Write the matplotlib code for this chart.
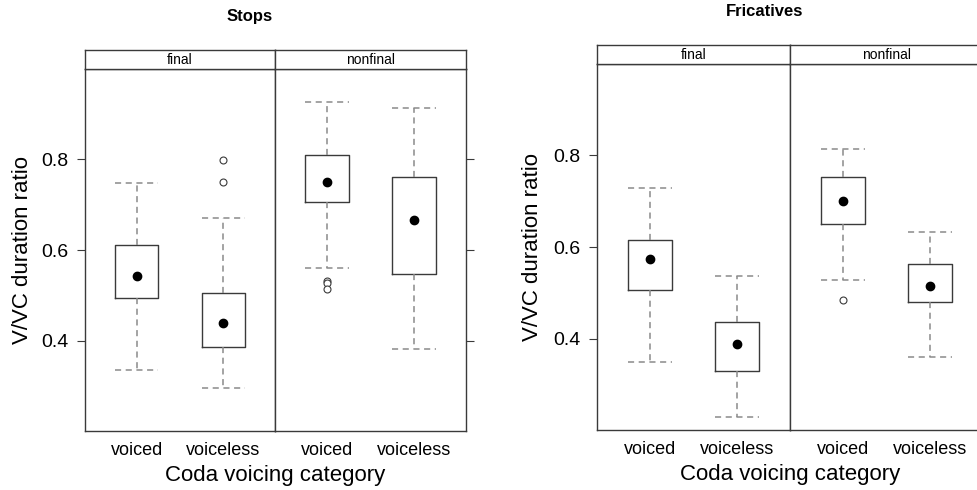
import matplotlib.pyplot as plt

plt.rcParams["font.family"] = ["Liberation Sans", "DejaVu Sans"]

GROUPS = ["voiced", "voiceless"]
PANELS = ["final", "nonfinal"]

# Stops: [final, nonfinal] x [voiced, voiceless]
stops_whislo = [[0.335, 0.294], [0.560, 0.382]]
stops_q1 = [[0.495, 0.385], [0.705, 0.548]]
stops_med = [[0.543, 0.438], [0.751, 0.667]]
stops_q3 = [[0.610, 0.505], [0.811, 0.762]]
stops_whishi = [[0.747, 0.670], [0.926, 0.913]]
stops_fliers = [[[], [0.751, 0.798]], [[0.532, 0.526, 0.513], []]]

# Fricatives
fric_whislo = [[0.348, 0.228], [0.528, 0.359]]
fric_q1 = [[0.506, 0.328], [0.650, 0.480]]
fric_med = [[0.574, 0.387], [0.700, 0.515]]
fric_q3 = [[0.615, 0.437], [0.754, 0.563]]
fric_whishi = [[0.730, 0.537], [0.815, 0.633]]
fric_fliers = [[[], []], [[0.485], []]]

W, H = 978, 490
EDGE = "#3a3a3a"
WHISK = "#8a8a8a"


def rect(x0, x1, y0, y1):
    return [x0 / W, 1 - y1 / H, (x1 - x0) / W, (y1 - y0) / H]


fig = plt.figure(figsize=(W / 100, H / 100), dpi=100)


def chart(xs, ytop, ystrip, ybot, title, title_xy, ylab_x, data):
    whislo, q1, med, q3, whishi, fliers = data
    for p, (x0, x1) in enumerate(zip(xs[:-1], xs[1:])):
        ax = fig.add_axes(rect(x0, x1, ystrip, ybot))
        stats = []
        for g, name in enumerate(GROUPS):
            stats.append(dict(label=name, whislo=whislo[p][g], q1=q1[p][g],
                              med=med[p][g], q3=q3[p][g], whishi=whishi[p][g],
                              fliers=fliers[p][g], mean=med[p][g]))
        ax.bxp(stats, positions=[1, 2], widths=0.5, capwidths=0.5,
               showmeans=True,
               boxprops=dict(color=EDGE, linewidth=1.0),
               whiskerprops=dict(color=WHISK, linewidth=1.1, linestyle=(0, (4, 3))),
               capprops=dict(color=WHISK, linewidth=1.1, linestyle=(0, (4, 3))),
               medianprops=dict(linewidth=0),
               meanprops=dict(marker="o", markerfacecolor="black",
                              markeredgecolor="black", markersize=6),
               flierprops=dict(marker="o", markerfacecolor="white",
                               markeredgecolor=EDGE, markersize=5, markeredgewidth=0.8))
        ax.set_xlim(0.4, 2.6)
        ax.set_ylim(0.2, 1.0)
        for s in ax.spines.values():
            s.set_color(EDGE)
            s.set_linewidth(1.0)
        ax.tick_params(axis="x", length=0, pad=8, labelsize=13)
        ax.set_yticks([0.4, 0.6, 0.8])
        ax.set_yticklabels(["0.4", "0.6", "0.8"])
        if p == 0:
            ax.tick_params(axis="y", left=True, right=False, labelleft=True,
                           length=6, pad=6, labelsize=14, color=EDGE)
        else:
            ax.tick_params(axis="y", left=False, right=True, labelleft=False,
                           labelright=False, length=6, color=EDGE)
        sax = fig.add_axes(rect(x0, x1, ytop, ystrip))
        sax.set_xticks([])
        sax.set_yticks([])
        for s in sax.spines.values():
            s.set_color(EDGE)
            s.set_linewidth(1.0)
        sax.text(0.5, 0.45, PANELS[p], ha="center", va="center", fontsize=10,
                 transform=sax.transAxes)
    xc = (xs[0] + xs[-1]) / 2 if xs[-1] <= W else (xs[0] + xs[-1]) / 2
    fig.text(title_xy[0] / W, 1 - title_xy[1] / H, title, ha="center", va="center",
             fontsize=12, fontweight="bold")
    fig.text(ylab_x / W, 1 - (ystrip + ybot) / 2 / H, "V/VC duration ratio",
             rotation=90, ha="center", va="center", fontsize=16)
    fig.text(xs[1] / W, 1 - (ybot + 44) / H, "Coda voicing category",
             ha="center", va="center", fontsize=16)


chart([85, 275, 466], 50, 69, 431, "Stops", (250, 16), 23,
      (stops_whislo, stops_q1, stops_med, stops_q3, stops_whishi, stops_fliers))
chart([597, 790, 983], 45, 64, 430, "Fricatives", (765, 11), 533,
      (fric_whislo, fric_q1, fric_med, fric_q3, fric_whishi, fric_fliers))

fig.savefig("out.png", dpi=100)
